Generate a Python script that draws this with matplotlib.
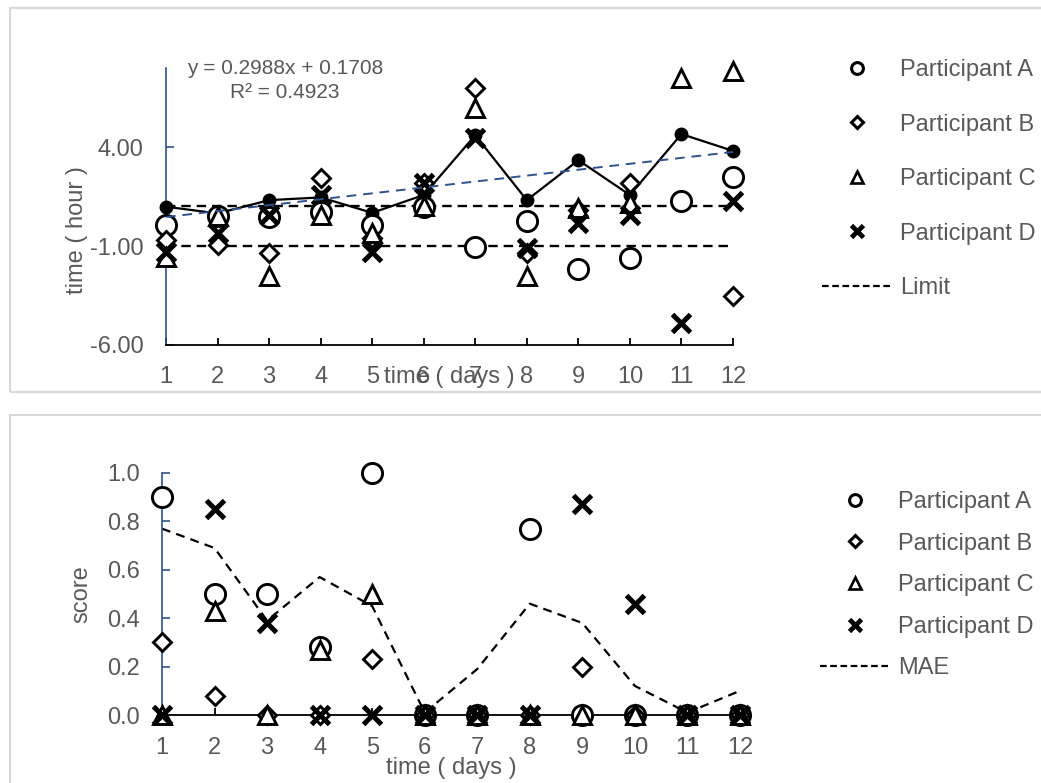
import matplotlib
matplotlib.use('Agg')
import matplotlib.pyplot as plt
from matplotlib.lines import Line2D
from matplotlib.patches import Rectangle
import numpy as np

# ---------------------------------------------------------------------------
# data
# ---------------------------------------------------------------------------
days = [1, 2, 3, 4, 5, 6, 7, 8, 9, 10, 11, 12]

# top chart: time difference (hour)
hour_a = [0.06, 0.5, 0.48, 0.73, 0.06, 0.98, -1.07, 0.28, -2.17, -1.62, 1.27, 2.47]
hour_b = [-0.7, -0.95, -1.37, 2.45, -0.61, 2.2, 7.0, -1.37, 0.82, 2.2, np.nan, -3.53]
hour_c = [-1.54, 0.5, -2.52, 0.57, -0.35, 1.0, 6.0, -2.52, 0.9, 1.2, 7.47, 7.85]
hour_d = [-1.29, -0.36, 0.57, 1.58, -1.29, 2.17, 4.44, -1.12, 0.15, 0.57, -4.87, 1.27]
hour_avg = [0.99, 0.65, 1.32, 1.46, 0.68, 1.58, 4.6, 1.32, 3.34, 1.58, 4.66, 3.81]
limit_hi = 1.0
limit_lo = -1.0
trend_slope = 0.2988
trend_icpt = 0.1708
trend_r2 = 0.4923

# bottom chart: score
score_a = [0.9, 0.5, 0.5, 0.28, 1.0, 0, 0, 0.77, 0, 0, 0, 0]
score_b = [0.3, 0.08, 0, 0, 0.23, 0, 0, 0, 0.2, 0, 0, 0]
score_c = [0, 0.43, 0, 0.27, 0.5, 0, 0, 0, 0, 0, 0, 0]
score_d = [0, 0.85, 0.38, 0, 0, 0, 0, 0, 0.87, 0.46, 0, 0]
score_mae = [0.77, 0.69, 0.39, 0.57, 0.45, 0.01, 0.19, 0.46, 0.38, 0.12, 0.01, 0.10]

participants = ['Participant A', 'Participant B', 'Participant C', 'Participant D']

# ---------------------------------------------------------------------------
# style
# ---------------------------------------------------------------------------
plt.rcParams['font.family'] = ['Liberation Sans', 'DejaVu Sans']
GRAY = '#595959'
BLUE = '#2F528F'
W, H = 1041, 783

markers = [
    dict(marker='o', ms=14.5, mew=2.1),
    dict(marker='D', ms=9.5, mew=2.1),
    dict(marker='^', ms=13.5, mew=2.1),
    dict(marker='x', ms=12.5, mew=3.6),
]
leg_markers = [
    dict(marker='o', ms=8.5, mew=2.2),
    dict(marker='D', ms=6.5, mew=2.2),
    dict(marker='^', ms=8.5, mew=1.9),
    dict(marker='x', ms=8.0, mew=3.4),
]


def box(l, t, r, b):
    return [l / W, 1 - b / H, (r - l) / W, (b - t) / H]


def style_axes(ax):
    ax.spines['top'].set_visible(False)
    ax.spines['right'].set_visible(False)
    ax.spines['left'].set_color(BLUE)
    ax.spines['left'].set_linewidth(1.2)
    ax.spines['bottom'].set_color('black')
    ax.spines['bottom'].set_linewidth(1.3)
    ax.tick_params(axis='y', direction='in', length=6, width=1.2, color=BLUE,
                   labelsize=17, labelcolor=GRAY, pad=16)
    ax.tick_params(axis='x', direction='in', length=5, width=1.3, color='black',
                   labelsize=17, labelcolor=GRAY, pad=15)
    ax.set_xlim(1, 12)
    ax.set_xticks(days)
    ax.set_facecolor('none')


def make_legend(last_handle, last_label, x, y, spacing):
    handles = [Line2D([], [], ls='none', mfc='white', mec='black', color='black', **m)
               for m in leg_markers]
    handles.append(last_handle)
    leg = fig.legend(handles, participants + [last_label], loc='upper left',
                     bbox_to_anchor=(x / W, 1 - y / H), frameon=False, fontsize=17,
                     borderpad=0, borderaxespad=0, handlelength=3.0,
                     handletextpad=0.3, labelspacing=spacing)
    for t in leg.get_texts():
        t.set_color(GRAY)
    return leg


fig = plt.figure(figsize=(W / 100, H / 100), dpi=100)

# panel frames
fig.add_artist(Rectangle((10 / W, 1 - 392 / H), 1.1, 384 / H, transform=fig.transFigure,
                         fill=False, ec='#D9D9D9', lw=1.5))
fig.add_artist(Rectangle((10 / W, 1 - 900 / H), 1.1, 485 / H, transform=fig.transFigure,
                         fill=False, ec='#D9D9D9', lw=1.5))

# ---------------------------------------------------------------------------
# top chart
# ---------------------------------------------------------------------------
ax1 = fig.add_axes(box(166, 68, 733, 345))
style_axes(ax1)
ax1.set_ylim(-6, 8)
ax1.set_yticks([-6, -1, 4])
ax1.yaxis.set_major_formatter(matplotlib.ticker.FormatStrFormatter('%.2f'))

ax1.plot([days[0], days[-1]], [limit_hi, limit_hi], color='black', lw=1.7,
         dashes=(4, 2.5), zorder=2, clip_on=False)
ax1.plot([days[0], days[-1]], [limit_lo, limit_lo], color='black', lw=1.7,
         dashes=(4, 2.5), zorder=2, clip_on=False)
ax1.plot(days, hour_avg, color='black', lw=1.6, marker='o', ms=9, zorder=3, clip_on=False)

for vals, m in zip([hour_a, hour_b, hour_c, hour_d], markers):
    ax1.plot(days, vals, ls='none', mfc='white', mec='black', zorder=4, clip_on=False, **m)

tx = np.array([days[0], days[-1]])
ax1.plot(tx, trend_slope * tx + trend_icpt, color=BLUE, lw=1.4, dashes=(5, 3.5),
         zorder=5, clip_on=False)

fig.text(285 / W, 1 - 68 / H, f'y = {trend_slope}x + {trend_icpt}', ha='center',
         va='center', fontsize=15, color=GRAY)
fig.text(285 / W, 1 - 93 / H, f'R² = {trend_r2}', ha='center', va='center',
         fontsize=15, color=GRAY)
fig.text(77 / W, 1 - 230 / H, 'time ( hour )', rotation=90, ha='center', va='center',
         fontsize=17, color=GRAY)
fig.text(449 / W, 1 - 377 / H, 'time ( days )', ha='center', va='center',
         fontsize=17, color=GRAY)

make_legend(Line2D([], [], color='black', lw=1.6, dashes=(3, 1.6)), 'Limit',
            822, 59, 1.38)

# ---------------------------------------------------------------------------
# bottom chart
# ---------------------------------------------------------------------------
ax2 = fig.add_axes(box(162, 473, 740, 715))
style_axes(ax2)
ax2.set_ylim(0, 1)
ax2.set_yticks([0, 0.2, 0.4, 0.6, 0.8, 1.0])
ax2.yaxis.set_major_formatter(matplotlib.ticker.FormatStrFormatter('%.1f'))
ax2.tick_params(axis='x', pad=16)
ax2.tick_params(axis='y', pad=16)

ax2.plot(days, score_mae, color='black', lw=1.6, dashes=(4, 2.8), zorder=2, clip_on=False)
for vals, m in zip([score_a, score_b, score_c, score_d], markers):
    ax2.plot(days, vals, ls='none', mfc='white', mec='black', zorder=4, clip_on=False, **m)

fig.text(81 / W, 1 - 594 / H, 'score', rotation=90, ha='center', va='center',
         fontsize=17, color=GRAY)
fig.text(451 / W, 1 - 768 / H, 'time ( days )', ha='center', va='center',
         fontsize=17, color=GRAY)

make_legend(Line2D([], [], color='black', lw=1.6, dashes=(3, 1.6)), 'MAE',
            820, 491, 0.83)

plt.savefig('out.png', dpi=100, facecolor='white')
plt.close()
